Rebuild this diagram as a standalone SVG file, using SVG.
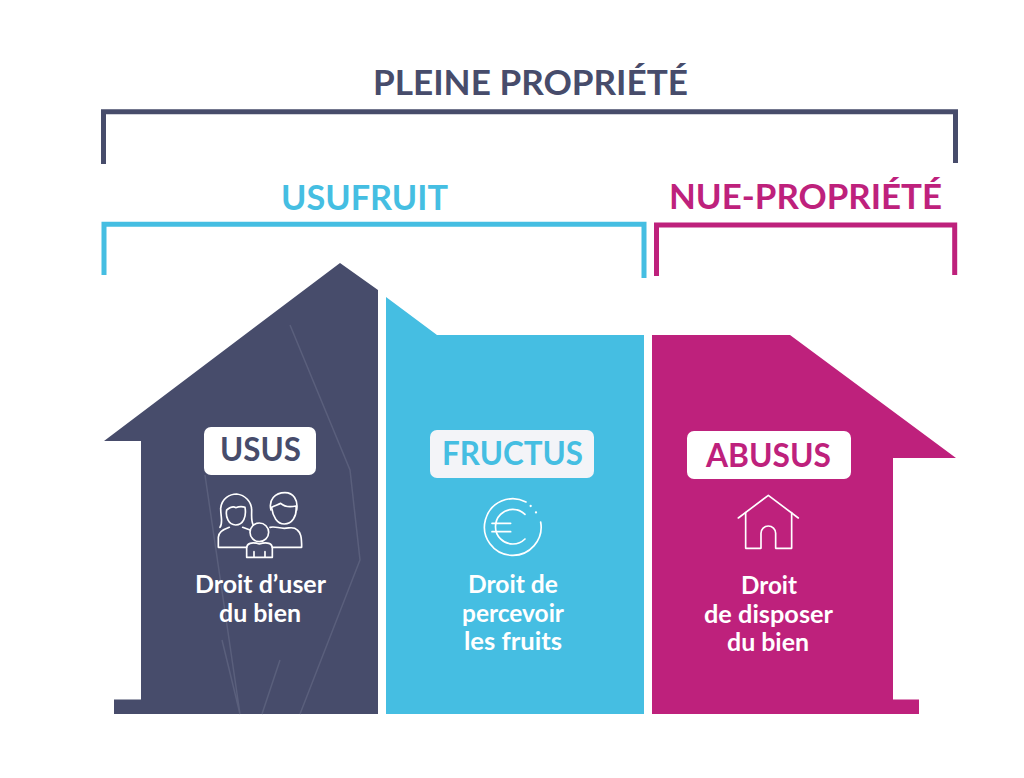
<svg xmlns="http://www.w3.org/2000/svg" width="1024" height="778" viewBox="0 0 1024 778">
<style>
.t{font-family:"Lato","Liberation Sans",sans-serif;font-weight:700}
.h{font-size:34px}
.b{font-size:24px;fill:#fff;font-weight:700}
.k{font-size:33px}
.br{fill:none;stroke-width:5}
.ic{fill:none;stroke:#fff;stroke-width:5;stroke-linejoin:round;stroke-linecap:round}
.lab{fill:#fff}
</style>
<rect width="1024" height="778" fill="#fff"/>
<g id="bracket-pleine">
<text class="t h" x="373" y="95" fill="#474c6b" textLength="315" lengthAdjust="spacingAndGlyphs">PLEINE PROPRIÉTÉ</text>
<path class="br" stroke="#474c6b" d="M103.5 164V111.8H955.5V163"/>
</g>
<g id="bracket-usufruit">
<text class="t h" x="281" y="210" fill="#45bee2" textLength="167" lengthAdjust="spacingAndGlyphs">USUFRUIT</text>
<path class="br" stroke="#45bee2" d="M104 275V224.300H644V278"/>
</g>
<g id="bracket-nue">
<text class="t h" x="669" y="209" fill="#be217c" textLength="273" lengthAdjust="spacingAndGlyphs">NUE-PROPRIÉTÉ</text>
<path class="br" stroke="#be217c" d="M656.500 276V225H954.700V275"/>
</g>
<g id="usus">
<path fill="#474c6b" d="M340 263L378 290V714H114V699.500H141V441H104Z"/>
<path fill="none" stroke="#5a5f7c" stroke-width="1.500" d="M205 475L240 714M300 714L360 560L350 470L290 325M240 714L222 640M262 714L280 660"/>
<rect class="lab" x="204" y="427" width="112" height="48" rx="7"/>
<text class="t k" x="220" y="461" fill="#474c6b" textLength="81" lengthAdjust="spacingAndGlyphs">USUS</text>
<g class="ic" transform="translate(190 420) scale(.3333)">
<path d="M90 322C100 310 92 290 92 265C95 235 120 222 140 222C165 225 185 245 185 270C185 290 183 305 190 315"/>
<path d="M110 270C120 262 130 258 137 263C145 260 155 258 165 262C170 290 160 315 137 315C115 315 106 290 110 270Z"/>
<path d="M170 382H85V352C85 335 100 328 118 322M158 322L180 330"/>
<path d="M243 270C235 240 255 218 285 218C310 218 325 240 320 270"/>
<path d="M245 262C258 256 265 254 272 250C285 262 300 262 318 258C322 290 305 312 283 312C262 312 248 290 245 262Z"/>
<path d="M240 322C255 318 265 325 283 325C300 325 310 318 322 330C332 338 335 350 335 382H247"/>
<circle cx="208" cy="337" r="28"/>
<path d="M170 412V385C170 370 185 365 208 372C232 365 247 370 247 385V412ZM192 395V412M225 395V412"/>
</g>
<text class="t b" x="195" y="593" textLength="131" lengthAdjust="spacingAndGlyphs">Droit d’user</text>
<text class="t b" x="219" y="622" textLength="82" lengthAdjust="spacingAndGlyphs">du bien</text>
</g>
<g id="fructus">
<path fill="#45bee2" d="M386 297L437 335H644V714H386Z"/>
<rect x="430" y="430" width="164" height="48" rx="7" fill="#f3f4f8"/>
<text class="t k" x="442" y="465" fill="#45bee2" textLength="141" lengthAdjust="spacingAndGlyphs">FRUCTUS</text>
<g class="ic" transform="translate(420 420) scale(.3333)">
<path d="M318 246A85 85 0 1 0 362 306"/>
<path d="M332 258V258.100M348 277V277.100" stroke-width="7"/>
<path d="M315 283A52 52 0 1 0 315 357M216 310H272M216 335H272"/>
</g>
<text class="t b" x="468" y="593" textLength="90" lengthAdjust="spacingAndGlyphs">Droit de</text>
<text class="t b" x="462" y="622" textLength="102" lengthAdjust="spacingAndGlyphs">percevoir</text>
<text class="t b" x="464" y="650" textLength="98" lengthAdjust="spacingAndGlyphs">les fruits</text>
</g>
<g id="abusus">
<path fill="#be217c" d="M652 335H790L956 458H893V699.500H919V714H652Z"/>
<rect class="lab" x="687" y="431" width="164" height="48" rx="7"/>
<text class="t k" x="706" y="467" fill="#be217c" textLength="125" lengthAdjust="spacingAndGlyphs">ABUSUS</text>
<g class="ic" transform="translate(680 420) scale(.3333)">
<path d="M175 294L265 226L355 294"/>
<path d="M197 278V385H243V340A22 22 0 0 1 287 340V385H335V278"/>
</g>
<text class="t b" x="741" y="594" textLength="56" lengthAdjust="spacingAndGlyphs">Droit</text>
<text class="t b" x="704" y="623" textLength="129" lengthAdjust="spacingAndGlyphs">de disposer</text>
<text class="t b" x="727" y="651" textLength="82" lengthAdjust="spacingAndGlyphs">du bien</text>
</g>
</svg>
